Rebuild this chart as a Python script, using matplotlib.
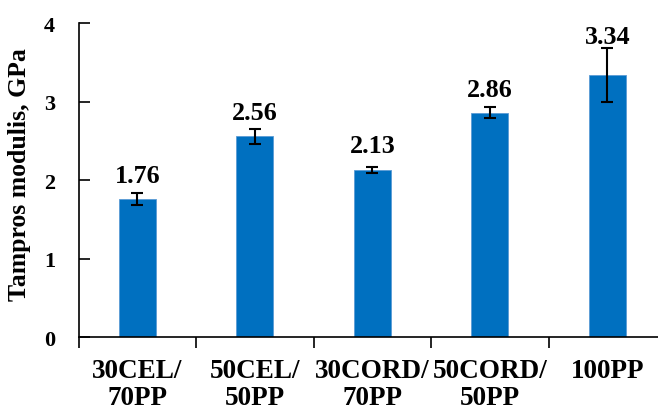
import numpy as np
import matplotlib.pyplot as plt

# Tampros modulis pagal kompozito sudeti
kategorijos = ['30CEL/\n70PP', '50CEL/\n50PP', '30CORD/\n70PP', '50CORD/\n50PP', '100PP']
modulis = [1.76, 2.56, 2.13, 2.86, 3.34]
paklaida = [0.08, 0.095, 0.04, 0.07, 0.345]
etikeciu_poslinkis = [8.5, 8.5, 9.5, 8.5, 19.5]

plt.rcParams['font.family'] = ['Liberation Serif', 'DejaVu Serif']
plt.rcParams['font.weight'] = 'bold'

fig = plt.figure(figsize=(6.58, 4.10), dpi=100)
ax = fig.add_axes([78.7 / 658, (410 - 338.3) / 410, 587.5 / 658, 314.3 / 410])

x = np.arange(len(kategorijos))
ax.bar(x, modulis, width=0.315, color='#0070C0', edgecolor='#5B9BD5', linewidth=0.6, zorder=2)
ax.errorbar(x, modulis, yerr=paklaida, fmt='none', ecolor='black', elinewidth=1.5,
            capsize=4.5, capthick=1.5, zorder=3)

for xi, v, e, d in zip(x, modulis, paklaida, etikeciu_poslinkis):
    ax.annotate(f'{v:.2f}', (xi, v), xytext=(0, d), textcoords='offset points',
                ha='center', va='bottom', fontsize=18.8, fontweight='bold')

ax.set_xlim(-0.5, len(kategorijos) - 0.5)
ax.set_ylim(0, 4)
ax.set_yticks([0, 1, 2, 3, 4])
ax.set_xticks(x)
ax.set_xticklabels(kategorijos, fontsize=19.5, fontweight='bold', linespacing=1.12)
ax.set_xticks(np.arange(len(kategorijos) + 1) - 0.5, minor=True)
ax.tick_params(axis='x', which='major', length=0, pad=15)
ax.tick_params(axis='x', which='minor', length=8, width=1.2, direction='out')
ax.tick_params(axis='y', which='major', length=8, width=1.2, direction='in', labelsize=16, pad=17)
for lab in ax.get_yticklabels():
    lab.set_fontweight('bold')

ax.spines['top'].set_visible(False)
ax.spines['right'].set_visible(False)
ax.spines['left'].set_linewidth(1.2)
ax.spines['bottom'].set_linewidth(1.2)

ax.set_ylabel('Tampros modulis, GPa', fontsize=18.5, fontweight='bold')
ax.yaxis.set_label_coords(-48 / 587.5, (338.3 - 175) / 314.3)

fig.savefig('out.png', dpi=100)
